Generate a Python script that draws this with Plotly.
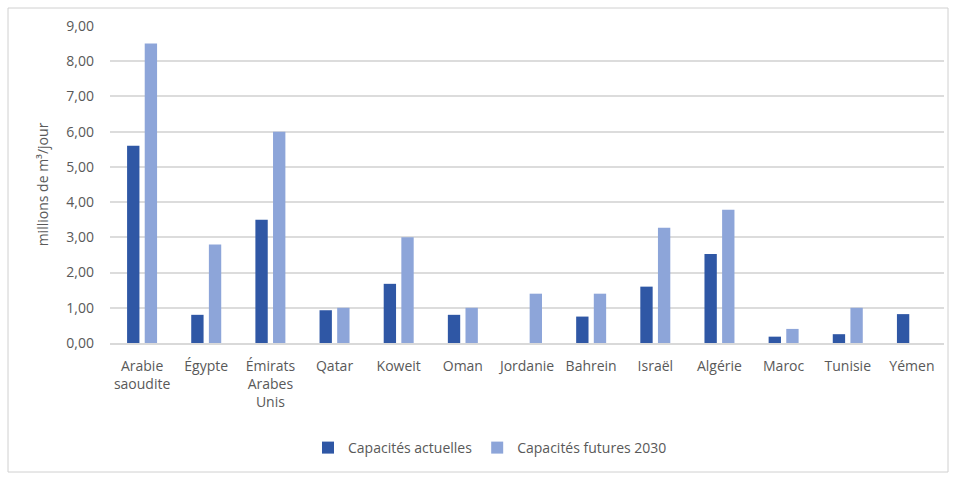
import plotly.graph_objects as go

# Desalination capacity by country (millions of m³ per day)
pays = ["Arabie<br>saoudite", "Égypte", "Émirats<br>Arabes<br>Unis", "Qatar", "Koweit",
        "Oman", "Jordanie", "Bahrein", "Israël", "Algérie", "Maroc", "Tunisie", "Yémen"]
capacites_actuelles = [5.6, 0.8, 3.5, 0.93, 1.68, 0.8, 0, 0.75, 1.6, 2.53, 0.18, 0.25, 0.82]
capacites_futures_2030 = [8.5, 2.8, 6.0, 1.0, 3.0, 1.0, 1.4, 1.4, 3.27, 3.78, 0.4, 1.0, None]
y_ticks = [0, 1, 2, 3, 4, 5, 6, 7, 8, 9]

FONT = "Open Sans, Liberation Sans, sans-serif"
GRAY = "#595959"

fig = go.Figure()
fig.add_trace(go.Bar(x=pays, y=capacites_actuelles, name="Capacités actuelles",
                     marker=dict(color="#2F57A5", line=dict(width=0))))
fig.add_trace(go.Bar(x=pays, y=capacites_futures_2030, name="Capacités futures 2030",
                     marker=dict(color="#8DA5D9", line=dict(width=0))))

# plot area: x 110..944, y 26..343 px
px_l, px_r, px_t, px_b = 110, 944, 26, 343
W, H = px_r - px_l, px_b - px_t

def xp(px):
    return (px - px_l) / W

def yp(py):
    return (px_b - py) / H

fig.update_layout(
    width=957, height=480,
    margin=dict(l=px_l, r=957 - px_r, t=px_t, b=480 - px_b),
    paper_bgcolor="white", plot_bgcolor="white",
    barmode="group", bargap=0.45, bargroupgap=0.3,
    separators=", ",
    font=dict(family=FONT, size=14, color=GRAY),
    showlegend=True,
    legend=dict(orientation="h", x=xp(490), xanchor="center", y=yp(448), yanchor="middle",
                font=dict(size=14, color=GRAY), itemwidth=30, traceorder="normal"),
    xaxis=dict(showgrid=False, showline=True, linecolor="#d9d9d9", linewidth=1.5,
               ticks="", ticklabelstandoff=9, tickfont=dict(size=14, color=GRAY),
               tickangle=0, fixedrange=True),
    yaxis=dict(range=[0, 9], tickvals=y_ticks, tickformat=".2f", showgrid=True,
               gridcolor="#dcdcdc", gridwidth=1.5, zeroline=False, showline=False,
               ticks="", ticklabelstandoff=15, tickfont=dict(size=14, color=GRAY),
               title=dict(text="millions de m³/jour", font=dict(size=14, color=GRAY), standoff=14)),
    shapes=[dict(type="rect", xref="paper", yref="paper",
                 x0=xp(8), x1=xp(948), y0=yp(472), y1=yp(8),
                 line=dict(color="#d0d0d0", width=1), fillcolor="rgba(0,0,0,0)", layer="below")],
)

fig.write_html("out.html")
